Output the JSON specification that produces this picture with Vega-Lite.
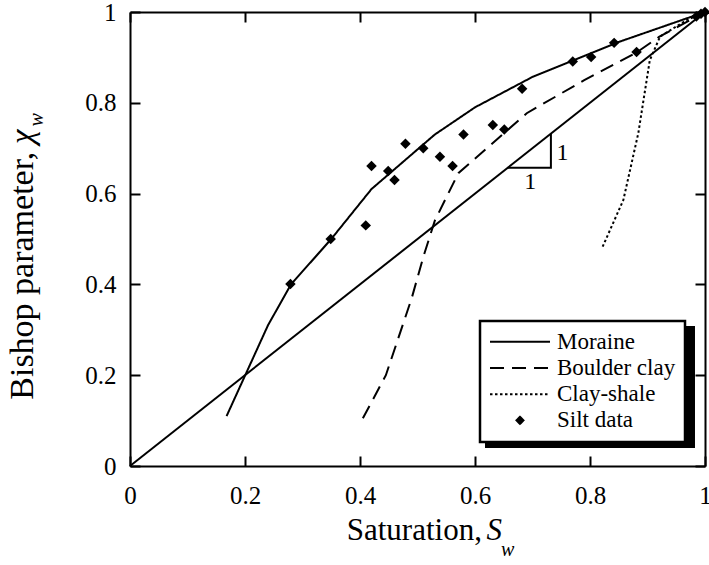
{
  "$schema": "https://vega.github.io/schema/vega-lite/v6.json",
  "width": 575,
  "height": 454,
  "autosize": {"type": "none"},
  "padding": {"left": 130, "top": 12, "right": 4, "bottom": 99},
  "background": "white",
  "config": {
    "view": {"stroke": null},
    "font": "Liberation Serif",
    "axis": {
      "grid": false,
      "domainColor": "black",
      "domainWidth": 2,
      "tickColor": "black",
      "tickWidth": 2,
      "tickSize": -10,
      "labelFont": "Liberation Serif",
      "labelFontSize": 25,
      "labelColor": "black",
      "labelFlush": false,
      "labelOverlap": false
    },
    "text": {"font": "Liberation Serif", "color": "black"}
  },
  "datasets": {
    "diagonal": [{"s": 0, "chi": 0}, {"s": 1, "chi": 1}],
    "curves": [
      {"series": "Moraine", "s": 0.168, "chi": 0.11},
      {"series": "Moraine", "s": 0.24, "chi": 0.31},
      {"series": "Moraine", "s": 0.28, "chi": 0.40},
      {"series": "Moraine", "s": 0.35, "chi": 0.50},
      {"series": "Moraine", "s": 0.42, "chi": 0.61},
      {"series": "Moraine", "s": 0.53, "chi": 0.73},
      {"series": "Moraine", "s": 0.60, "chi": 0.79},
      {"series": "Moraine", "s": 0.70, "chi": 0.857},
      {"series": "Moraine", "s": 0.85, "chi": 0.934},
      {"series": "Moraine", "s": 1.0, "chi": 1.0},
      {"series": "Boulder clay", "s": 0.405, "chi": 0.105},
      {"series": "Boulder clay", "s": 0.445, "chi": 0.20},
      {"series": "Boulder clay", "s": 0.49, "chi": 0.37},
      {"series": "Boulder clay", "s": 0.51, "chi": 0.46},
      {"series": "Boulder clay", "s": 0.53, "chi": 0.54},
      {"series": "Boulder clay", "s": 0.571, "chi": 0.645},
      {"series": "Boulder clay", "s": 0.69, "chi": 0.777},
      {"series": "Boulder clay", "s": 0.79, "chi": 0.85},
      {"series": "Boulder clay", "s": 0.88, "chi": 0.91},
      {"series": "Boulder clay", "s": 0.92, "chi": 0.945},
      {"series": "Boulder clay", "s": 1.0, "chi": 1.0},
      {"series": "Clay-shale", "s": 0.822, "chi": 0.483},
      {"series": "Clay-shale", "s": 0.858, "chi": 0.586},
      {"series": "Clay-shale", "s": 0.884, "chi": 0.733},
      {"series": "Clay-shale", "s": 0.904, "chi": 0.894},
      {"series": "Clay-shale", "s": 0.922, "chi": 0.946},
      {"series": "Clay-shale", "s": 0.968, "chi": 0.982},
      {"series": "Clay-shale", "s": 1.0, "chi": 1.0}
    ],
    "silt": [
      {"s": 0.279, "chi": 0.401},
      {"s": 0.349, "chi": 0.500},
      {"s": 0.410, "chi": 0.530},
      {"s": 0.420, "chi": 0.661},
      {"s": 0.449, "chi": 0.650},
      {"s": 0.460, "chi": 0.630},
      {"s": 0.479, "chi": 0.710},
      {"s": 0.510, "chi": 0.700},
      {"s": 0.539, "chi": 0.681},
      {"s": 0.561, "chi": 0.661},
      {"s": 0.580, "chi": 0.730},
      {"s": 0.631, "chi": 0.751},
      {"s": 0.651, "chi": 0.741},
      {"s": 0.682, "chi": 0.831},
      {"s": 0.770, "chi": 0.891},
      {"s": 0.802, "chi": 0.901},
      {"s": 0.842, "chi": 0.932},
      {"s": 0.881, "chi": 0.912},
      {"s": 0.985, "chi": 0.990},
      {"s": 0.993, "chi": 0.996},
      {"s": 1.0, "chi": 1.0}
    ],
    "slope": [
      {"k": 1, "s": 0.657, "chi": 0.657},
      {"k": 2, "s": 0.732, "chi": 0.657},
      {"k": 3, "s": 0.732, "chi": 0.732}
    ]
  },
  "resolve": {"axis": {"x": "independent", "y": "independent"}},
  "layer": [
    {
      "data": {"values": [{}]},
      "mark": {"type": "rect", "color": "black"},
      "encoding": {
        "x": {"datum": 0.6174, "type": "quantitative", "scale": {"domain": [0, 1], "nice": false}, "axis": null},
        "x2": {"datum": 0.9826},
        "y": {"datum": 0.0396, "type": "quantitative", "scale": {"domain": [0, 1], "nice": false}, "axis": null},
        "y2": {"datum": 0.3084}
      }
    },
    {
      "data": {"name": "diagonal"},
      "mark": {"type": "line", "color": "black", "strokeWidth": 2},
      "encoding": {
        "x": {"field": "s", "type": "quantitative", "scale": {"domain": [0, 1], "nice": false},
              "axis": {"orient": "top", "labels": false, "title": null, "values": [0, 0.2, 0.4, 0.6, 0.8, 1]}},
        "y": {"field": "chi", "type": "quantitative", "scale": {"domain": [0, 1], "nice": false},
              "axis": {"orient": "right", "labels": false, "title": null, "values": [0, 0.2, 0.4, 0.6, 0.8, 1]}}
      }
    },
    {
      "data": {"name": "curves"},
      "mark": {"type": "line", "color": "black", "strokeWidth": 2},
      "encoding": {
        "x": {"field": "s", "type": "quantitative", "scale": {"domain": [0, 1], "nice": false},
              "axis": {"orient": "bottom", "title": null, "values": [0, 0.2, 0.4, 0.6, 0.8, 1], "format": "~g", "labelPadding": 27}},
        "y": {"field": "chi", "type": "quantitative", "scale": {"domain": [0, 1], "nice": false},
              "axis": {"orient": "left", "title": null, "values": [0, 0.2, 0.4, 0.6, 0.8, 1], "format": "~g", "labelPadding": 24}},
        "strokeDash": {
          "field": "series", "type": "nominal",
          "scale": {"domain": ["Moraine", "Boulder clay", "Clay-shale", "Silt data"], "range": [[1, 0], [14, 8], [2.5, 2.5], [1, 0]]},
          "legend": {
            "orient": "none", "legendX": 350, "legendY": 309, "title": null,
            "symbolType": "stroke", "symbolSize": 3600, "clipHeight": 23.5,
            "symbolStrokeWidth": 2, "symbolStrokeColor": "black",
            "labelFont": "Liberation Serif", "labelFontSize": 23, "labelColor": "black",
            "labelOffset": 6, "fillColor": "white", "strokeColor": "black",
            "padding": 9, "rowPadding": 2.2,
            "encode": {
              "legend": {"update": {"strokeWidth": {"value": 2.5}}},
              "symbols": {"update": {
                "shape": {"signal": "datum.value === 'Silt data' ? 'diamond' : 'stroke'"},
                "size": {"signal": "datum.value === 'Silt data' ? 50 : 3600"},
                "fill": {"signal": "datum.value === 'Silt data' ? 'black' : 'transparent'"},
                "stroke": {"value": "black"},
                "opacity": {"value": 1}
              }}
            }
          }
        }
      }
    },
    {
      "data": {"name": "slope"},
      "mark": {"type": "line", "color": "black", "strokeWidth": 2},
      "encoding": {
        "x": {"field": "s", "type": "quantitative", "axis": null},
        "y": {"field": "chi", "type": "quantitative", "axis": null},
        "order": {"field": "k"}
      }
    },
    {
      "data": {"name": "silt"},
      "mark": {"type": "point", "shape": "diamond", "filled": true, "color": "black", "size": 110, "opacity": 1},
      "encoding": {
        "x": {"field": "s", "type": "quantitative", "axis": null},
        "y": {"field": "chi", "type": "quantitative", "axis": null}
      }
    },
    {
      "data": {"values": [{}]},
      "mark": {"type": "text", "text": "1", "fontSize": 24, "align": "center", "baseline": "middle"},
      "encoding": {
        "x": {"datum": 0.752, "type": "quantitative", "axis": null},
        "y": {"datum": 0.689, "type": "quantitative", "axis": null}
      }
    },
    {
      "data": {"values": [{}]},
      "mark": {"type": "text", "text": "1", "fontSize": 24, "align": "center", "baseline": "middle"},
      "encoding": {
        "x": {"datum": 0.696, "type": "quantitative", "axis": null},
        "y": {"datum": 0.626, "type": "quantitative", "axis": null}
      }
    },
    {
      "data": {"values": [{}]},
      "mark": {"type": "text", "text": "Saturation,", "fontSize": 31, "align": "right", "baseline": "alphabetic"},
      "encoding": {
        "x": {"datum": 0.612, "type": "quantitative", "axis": null},
        "y": {"datum": -0.163, "type": "quantitative", "axis": null}
      }
    },
    {
      "data": {"values": [{}]},
      "mark": {"type": "text", "text": "S", "fontSize": 31, "fontStyle": "italic", "align": "left", "baseline": "alphabetic"},
      "encoding": {
        "x": {"datum": 0.620, "type": "quantitative", "axis": null},
        "y": {"datum": -0.163, "type": "quantitative", "axis": null}
      }
    },
    {
      "data": {"values": [{}]},
      "mark": {"type": "text", "text": "w", "fontSize": 20, "fontStyle": "italic", "align": "left", "baseline": "alphabetic"},
      "encoding": {
        "x": {"datum": 0.645, "type": "quantitative", "axis": null},
        "y": {"datum": -0.198, "type": "quantitative", "axis": null}
      }
    },
    {
      "data": {"values": [{}]},
      "mark": {"type": "text", "text": "Bishop parameter,", "fontSize": 34, "angle": 270, "align": "right", "baseline": "alphabetic"},
      "encoding": {
        "x": {"datum": -0.169, "type": "quantitative", "axis": null},
        "y": {"datum": 0.692, "type": "quantitative", "axis": null}
      }
    },
    {
      "data": {"values": [{}]},
      "mark": {"type": "text", "text": "χ", "fontSize": 33, "fontStyle": "italic", "angle": 270, "align": "left", "baseline": "alphabetic"},
      "encoding": {
        "x": {"datum": -0.169, "type": "quantitative", "axis": null},
        "y": {"datum": 0.709, "type": "quantitative", "axis": null}
      }
    },
    {
      "data": {"values": [{}]},
      "mark": {"type": "text", "text": "w", "fontSize": 20, "fontStyle": "italic", "angle": 270, "align": "left", "baseline": "alphabetic"},
      "encoding": {
        "x": {"datum": -0.152, "type": "quantitative", "axis": null},
        "y": {"datum": 0.748, "type": "quantitative", "axis": null}
      }
    }
  ]
}
